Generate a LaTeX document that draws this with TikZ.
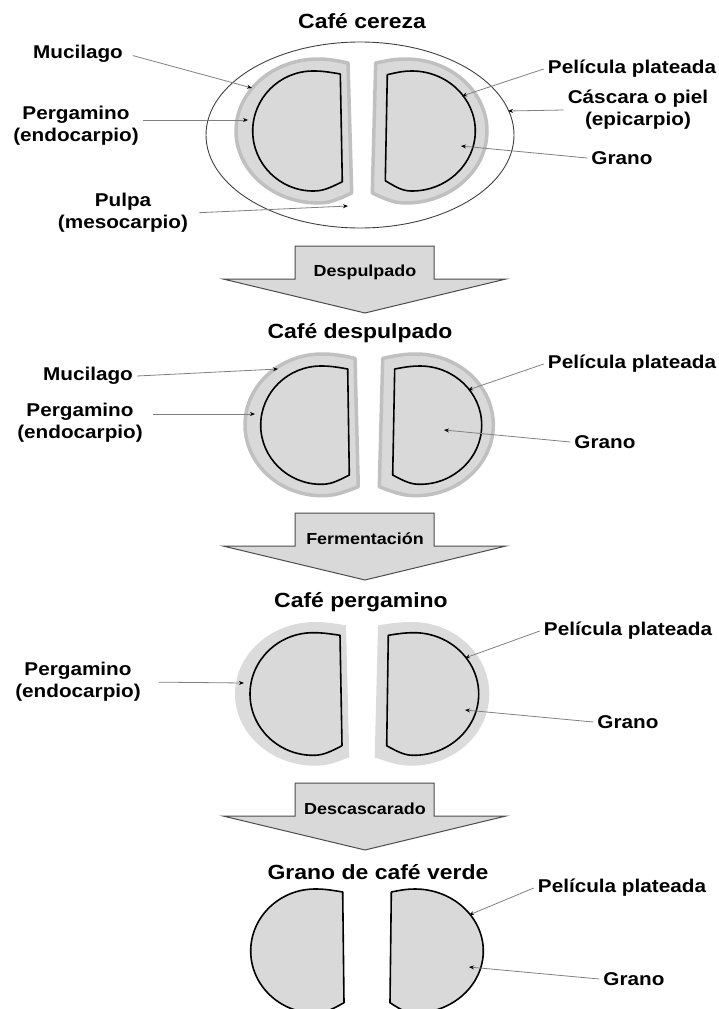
\documentclass[tikz,border=0pt]{standalone}
\usepackage{fontspec}
\setmainfont{Liberation Sans}[FakeStretch=1.12]
\usetikzlibrary{arrows.meta}

\definecolor{seedgray}{HTML}{D9D9D9}
\definecolor{hullgray}{HTML}{C0C0C0}

\tikzset{
  lbl/.style={font=\bfseries\fontsize{18.5}{22}\selectfont, align=center, text=black, inner sep=4pt},
  titlelbl/.style={font=\bfseries\fontsize{20.5}{24}\selectfont, text=black, inner sep=2pt},
  steplbl/.style={font=\bfseries\fontsize{16}{18}\selectfont, text=black, inner sep=2pt},
  leader/.style={draw=black!50, line width=0.8pt, -{Stealth[length=5pt,width=4pt,black]}},
  hull/.style={fill=seedgray, draw=hullgray, line width=3.5pt, line join=round},
  bareskin/.style={fill=seedgray!95!white},
  seedline/.style={fill=seedgray, draw=black, line width=1.6pt, line join=round},
  stepshape/.style={fill=seedgray, draw=black!70, line width=1pt, line join=miter}
}

% half seed: corner, top point, outer x, bottom point, corner
\newcommand{\halfseed}[9]{
  (#1,#2) .. controls ({#1+0.5*(#3-#1)},{#4+0.2*(#2-#4)}) and ({#3+0.3*(#1-#3)},#4) .. (#3,#4)
  .. controls ({#3-0.55*(#3-#5)},#4) and (#5,{(#4+#7)/2-0.275*(#7-#4)}) .. (#5,{(#4+#7)/2})
  .. controls (#5,{(#4+#7)/2+0.275*(#7-#4)}) and ({#6-0.55*(#6-#5)},#7) .. (#6,#7)
  .. controls ({#6+0.3*(#8-#6)},#7) and ({#8+0.5*(#6-#8)},{#7+0.2*(#9-#7)}) .. (#8,#9) -- cycle
}

\begin{document}
\begin{tikzpicture}[x=1pt,y=-1pt]
\useasboundingbox (0,0) rectangle (719,1009);

% cafe cereza
\draw[draw=black!75, line width=0.9pt] (360,135) ellipse [x radius=154, y radius=93];
\draw[hull] \halfseed{348}{63}{318}{59}{236}{318}{203}{351.7}{193};
\draw[hull] \halfseed{375.7}{63}{406}{59}{487}{406}{203}{372.3}{193};
\draw[seedline] \halfseed{340.3}{74}{313}{71}{252.7}{313}{191}{342.3}{181.7};
\draw[seedline] \halfseed{387.3}{74.7}{412}{71}{475.3}{412}{191}{385.3}{180.7};

\node[titlelbl] (cereza) at (362,21) {Café cereza};
\node[lbl] (mucilagoA) at (78,54) {Mucilago};
\node[lbl] (pergaminoA) at (76,126) {Pergamino\\(endocarpio)};
\node[lbl] (pulpaA) at (123,213) {Pulpa\\(mesocarpio)};
\node[lbl] (peliculaA) at (632,69) {Película plateada};
\node[lbl] (cascaraA) at (638,110) {Cáscara o piel\\(epicarpio)};
\node[lbl] (granoA) at (622,158) {Grano};

\coordinate (tipMucilagoA) at (252,88);
\coordinate (tipPergaminoA) at (248,120);
\coordinate (tipPulpaA) at (348,206);
\coordinate (tipPeliculaA) at (462,96);
\coordinate (tipCascaraA) at (508,111);
\coordinate (tipGranoA) at (461,146);
\draw[leader, shorten <=6pt] (mucilagoA.east) -- (tipMucilagoA);
\draw[leader] ([yshift=6pt]pergaminoA.east) -- (tipPergaminoA);
\draw[leader, shorten <=7pt] (pulpaA.east) -- (tipPulpaA);
\draw[leader] (peliculaA.west) -- (tipPeliculaA);
\draw[leader] (cascaraA.west) -- (tipCascaraA);
\draw[leader] (granoA.west) -- (tipGranoA);

% process arrows
\foreach \ytop/\steptext in {246/Despulpado,513/Fermentación,783/Descascarado}{
  \draw[stepshape] (295,\ytop) -- (434,\ytop) -- (434,\ytop+33) -- (506,\ytop+33)
    -- (365,\ytop+67) -- (223,\ytop+33) -- (295,\ytop+33) -- cycle;
  \node[steplbl] (step\ytop) at (365,\ytop+26) {\steptext};
}

% cafe despulpado
\draw[hull] \halfseed{355}{358.3}{322}{354}{245}{322}{495.7}{358.3}{486.7};
\draw[hull] \halfseed{382.7}{358.3}{416}{354}{493.3}{416}{495.7}{379.3}{486.7};
\draw[seedline] \halfseed{347.7}{369}{321}{366}{260.7}{321}{484.3}{349.3}{475};
\draw[seedline] \halfseed{394.7}{369}{420}{366}{481.7}{420}{484.3}{392.7}{475};

\node[titlelbl] (despulpado) at (360,333) {Café despulpado};
\node[lbl] (mucilagoB) at (88,376) {Mucilago};
\node[lbl] (pergaminoB) at (80,423) {Pergamino\\(endocarpio)};
\node[lbl] (peliculaB) at (632,364) {Película plateada};
\node[lbl] (granoB) at (605,442) {Grano};

\coordinate (tipMucilagoB) at (278,369);
\coordinate (tipPergaminoB) at (255,414);
\coordinate (tipPeliculaB) at (468,390);
\coordinate (tipGranoB) at (444,430);
\draw[leader] (mucilagoB.east) -- (tipMucilagoB);
\draw[leader, shorten <=6pt] ([yshift=9pt]pergaminoB.east) -- (tipPergaminoB);
\draw[leader] (peliculaB.west) -- (tipPeliculaB);
\draw[leader] (granoB.west) -- (tipGranoB);

% cafe pergamino
\fill[bareskin] \halfseed{346}{625.3}{315}{622}{235}{315}{765.7}{349.3}{757.3};
\fill[bareskin] \halfseed{378}{625.3}{412}{622}{489.3}{412}{765.7}{374.7}{757.3};
\draw[seedline] \halfseed{340}{635.3}{313}{632.7}{250}{313}{755.3}{342}{745.7};
\draw[seedline] \halfseed{388.3}{635.3}{414}{632.7}{478.7}{414}{755.3}{386.7}{745.7};

\node[titlelbl] (pergamino) at (361,602) {Café pergamino};
\node[lbl] (pergaminoC) at (78,682) {Pergamino\\(endocarpio)};
\node[lbl] (peliculaC) at (628,631) {Película plateada};
\node[lbl] (granoC) at (628,722) {Grano};

\coordinate (tipPergaminoC) at (244,683);
\coordinate (tipPeliculaC) at (465,658);
\coordinate (tipGranoC) at (465,710);
\draw[leader, shorten <=14pt] (pergaminoC.east) -- (tipPergaminoC);
\draw[leader] (peliculaC.west) -- (tipPeliculaC);
\draw[leader] (granoC.west) -- (tipGranoC);

% grano de cafe verde
\draw[seedline] \halfseed{342.7}{892}{315}{889}{250.7}{315}{1013}{344}{1002.7};
\draw[seedline] \halfseed{391.3}{892}{415}{889}{483.3}{415}{1013}{390}{1002.7};

\node[titlelbl] (verde) at (378,872) {Grano de café verde};
\node[lbl] (peliculaD) at (622,888) {Película plateada};
\node[lbl] (granoD) at (634,979) {Grano};

\coordinate (tipPeliculaD) at (469,915);
\coordinate (tipGranoD) at (469,967);
\draw[leader] (peliculaD.west) -- (tipPeliculaD);
\draw[leader] (granoD.west) -- (tipGranoD);
\end{tikzpicture}
\end{document}
